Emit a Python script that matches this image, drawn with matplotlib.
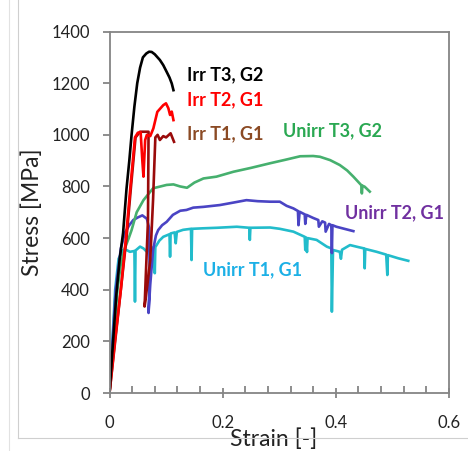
import matplotlib
matplotlib.use('Agg')
import matplotlib.pyplot as plt
from matplotlib.lines import Line2D
from matplotlib.ticker import MultipleLocator

plt.rcParams['font.family'] = ['Lato', 'DejaVu Sans']

# Irr T3, G2
irr_t3_strain = [0, 0.005, 0.012, 0.018, 0.024, 0.030, 0.035, 0.039, 0.044, 0.049, 0.054,
                 0.059, 0.065, 0.070, 0.0746, 0.080, 0.089, 0.095, 0.101, 0.106, 0.110, 0.113]
irr_t3_stress = [0, 160, 380, 520, 620, 790, 900, 1000, 1110, 1200, 1260,
                 1300, 1315, 1322, 1321, 1312, 1290, 1270, 1244, 1222, 1199, 1173]

# Irr T2, G1
irr_t2_strain = [0, 0.010, 0.020, 0.029, 0.037, 0.045, 0.050, 0.055, 0.058, 0.060, 0.063,
                 0.066, 0.072, 0.0775, 0.0845, 0.095, 0.0998, 0.104, 0.107, 0.110, 0.113]
irr_t2_stress = [0, 210, 400, 600, 800, 990, 1008, 1010, 900, 838, 980,
                 1000, 995, 1025, 1089, 1115, 1122, 1103, 1077, 1090, 1057]

# Irr T1, G1
irr_t1_strain = [0, 0.010, 0.020, 0.030, 0.038, 0.046, 0.054, 0.062, 0.069, 0.068, 0.062,
                 0.067, 0.072, 0.077, 0.081, 0.085, 0.089, 0.095, 0.100, 0.108, 0.114]
irr_t1_stress = [0, 200, 400, 600, 800, 990, 1012, 1012, 1012, 670, 335,
                 420, 515, 750, 990, 1000, 980, 995, 990, 1006, 973]

# Unirr T3, G2
unirr_t3_strain = [0, 0.007, 0.014, 0.020, 0.027, 0.034, 0.039, 0.048, 0.060, 0.077, 0.090,
                   0.101, 0.113, 0.125, 0.137, 0.150, 0.166, 0.189, 0.219, 0.250, 0.284,
                   0.310, 0.337, 0.360, 0.372, 0.390, 0.407, 0.420, 0.431, 0.445, 0.446,
                   0.447, 0.451, 0.460]
unirr_t3_stress = [0, 200, 400, 500, 560, 600, 631, 700, 747, 793, 800,
                   806, 808, 800, 795, 815, 831, 838, 857, 872, 890,
                   903, 917, 918, 915, 902, 883, 862, 838, 805, 773,
                   803, 799, 780]

# Unirr T2, G1
unirr_t2_strain = [0, 0.011, 0.020, 0.027, 0.035, 0.042, 0.050, 0.058, 0.066, 0.070, 0.071,
                   0.069, 0.072, 0.077, 0.082, 0.086, 0.093, 0.101, 0.112, 0.125, 0.136,
                   0.148, 0.166, 0.195, 0.220, 0.242, 0.262, 0.284, 0.301, 0.313, 0.325,
                   0.333, 0.334, 0.336, 0.345, 0.346, 0.348, 0.360, 0.369, 0.370, 0.376,
                   0.381, 0.382, 0.388, 0.392, 0.393, 0.394, 0.401, 0.415, 0.431]
unirr_t2_stress = [0, 400, 560, 620, 650, 670, 680, 688, 675, 640, 450,
                   310, 420, 554, 610, 631, 650, 663, 690, 706, 709,
                   718, 721, 728, 738, 747, 743, 741, 741, 725, 715,
                   705, 650, 702, 692, 655, 690, 678, 670, 644, 665,
                   660, 625, 655, 650, 542, 650, 644, 636, 627]

# Unirr T1, G1
unirr_t1_strain = [0, 0.005, 0.010, 0.016, 0.024, 0.030, 0.036, 0.044, 0.045, 0.046, 0.054,
                   0.060, 0.066, 0.072, 0.079, 0.080, 0.081, 0.088, 0.095, 0.106, 0.107,
                   0.108, 0.115, 0.117, 0.119, 0.130, 0.144, 0.145, 0.146, 0.166, 0.190,
                   0.225, 0.247, 0.248, 0.249, 0.284, 0.301, 0.325, 0.335, 0.345, 0.346,
                   0.347, 0.349, 0.350, 0.366, 0.384, 0.392, 0.393, 0.395, 0.407, 0.409,
                   0.411, 0.425, 0.440, 0.450, 0.451, 0.452, 0.472, 0.489, 0.491, 0.492,
                   0.510, 0.528]
unirr_t1_stress = [0, 200, 400, 520, 554, 554, 547, 550, 354, 552, 567,
                   560, 547, 560, 565, 464, 565, 590, 605, 615, 528,
                   618, 622, 580, 624, 632, 636, 515, 636, 638, 640,
                   644, 640, 593, 640, 641, 636, 625, 615, 605, 554,
                   603, 546, 600, 593, 567, 560, 315, 554, 547, 520,
                   555, 573, 565, 560, 483, 558, 547, 536, 457, 534,
                   522, 512]

curves = [
    (irr_t3_strain, irr_t3_stress, '#000000'),
    (irr_t2_strain, irr_t2_stress, '#ff0000'),
    (irr_t1_strain, irr_t1_stress, '#9a0a0a'),
    (unirr_t3_strain, unirr_t3_stress, '#46b06e'),
    (unirr_t2_strain, unirr_t2_stress, '#4a44c4'),
    (unirr_t1_strain, unirr_t1_stress, '#22bccb'),
]

labels = ['Irr T3, G2', 'Irr T2, G1', 'Irr T1, G1', 'Unirr T3, G2', 'Unirr T2, G1', 'Unirr T1, G1']
label_x = [0.137, 0.137, 0.137, 0.307, 0.416, 0.165]
label_y = [1232, 1135, 1003, 1015, 697, 476]
label_colors = ['#000000', '#ff0000', '#8b4a24', '#2aa852', '#7030a0', '#1cb0e6']

fig = plt.figure(figsize=(4.68, 4.51), dpi=100)
ax = fig.add_axes([0.234, 0.1286, 0.7254, 0.8014])

# screenshot frame lines
fig.add_artist(Line2D([9 / 468, 9 / 468], [0, 1], color='#e2e2e2', lw=0.8))
fig.add_artist(Line2D([17.5 / 468, 17.5 / 468], [13 / 451, 1], color='#cfcfcf', lw=0.8))
fig.add_artist(Line2D([17.5 / 468, 1], [13 / 451, 13 / 451], color='#cfcfcf', lw=0.8))

for strain, stress, color in curves[::-1]:
    ax.plot(strain, stress, color=color, lw=1.9, solid_joinstyle='round')

for text, x, y, color in zip(labels, label_x, label_y, label_colors):
    ax.text(x, y, text, color=color, fontsize=13, fontweight='bold', va='center', ha='left')

ax.set_xlim(0, 0.6)
ax.set_ylim(0, 1400)
ax.xaxis.set_minor_locator(MultipleLocator(0.04))
ax.yaxis.set_major_locator(MultipleLocator(200))
ax.set_xticks([0, 0.2, 0.4, 0.6])
ax.set_xticklabels(['0', '0.2', '0.4', '0.6'])

for spine in ax.spines.values():
    spine.set_color('#858585')
    spine.set_linewidth(1.3)

ax.tick_params(axis='x', which='major', direction='inout', length=7, width=1.3,
               color='#858585', labelsize=12, pad=12.5, labelcolor='#222222')
ax.tick_params(axis='x', which='minor', direction='in', length=5, width=1.3, color='#858585')
ax.tick_params(axis='y', which='major', direction='out', length=5, width=1.3,
               color='#858585', labelsize=12, pad=9, labelcolor='#222222')

ax.set_xlabel('Strain [-]', fontsize=16.5, color='#222222', va='center')
ax.xaxis.set_label_coords(0.483, -0.127)
ax.set_ylabel('Stress [MPa]', fontsize=16.5, color='#222222', labelpad=6)

fig.savefig('out.png', dpi=100)
